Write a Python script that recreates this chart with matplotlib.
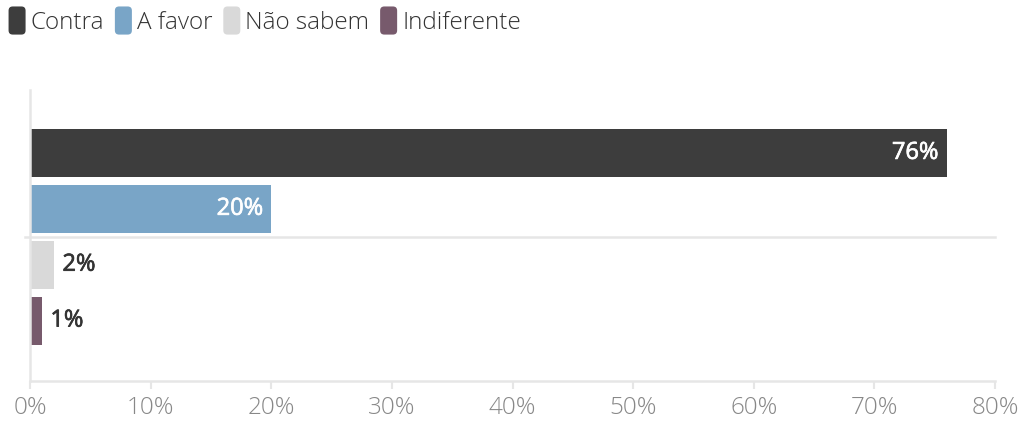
import matplotlib.pyplot as plt
import matplotlib.patheffects as pe
from matplotlib.patches import FancyBboxPatch, Patch
from matplotlib.legend_handler import HandlerPatch
from matplotlib.ticker import FuncFormatter

plt.rcParams['font.family'] = ['Open Sans', 'DejaVu Sans']

categorias = ['Contra', 'A favor', 'Não sabem', 'Indiferente']
valores = [76, 20, 2, 1]
cores = ['#3d3d3d', '#79a5c7', '#d9d9d9', '#775a6c']
ticks = [0, 10, 20, 30, 40, 50, 60, 70, 80]


class HandlerRound(HandlerPatch):
    def create_artists(self, legend, orig_handle, xdescent, ydescent,
                       width, height, fontsize, trans):
        p = FancyBboxPatch((-xdescent, -ydescent - 4), width, height + 8,
                           boxstyle='round,pad=0,rounding_size=3',
                           facecolor=orig_handle.get_facecolor(),
                           edgecolor='none', transform=trans)
        return [p]


fig = plt.figure(figsize=(10.24, 4.34), dpi=100)
ax = fig.add_axes([0.0293, 0.1221, 0.9424, 0.6705])

y = list(range(len(valores)))
ax.barh(y, valores, height=0.86, color=cores, edgecolor='none')

for i, v in enumerate(valores):
    if v >= 10:
        cor, dx, ha = 'white', -6, 'right'
    else:
        cor, dx, ha = '#333333', 6, 'left'
    ax.annotate(f'{v}%', (v, i), xytext=(dx, 0), textcoords='offset points',
                ha=ha, va='center', color=cor, fontsize=17,
                path_effects=[pe.withStroke(linewidth=0.5, foreground=cor)])

ax.axhline(1.5, xmin=-0.005, xmax=1, color='#e6e6e6', lw=1.8, clip_on=False)

ax.set_xlim(0, 80)
ax.set_ylim(4.08, -1.125)
ax.set_xticks(ticks)
ax.xaxis.set_major_formatter(FuncFormatter(lambda x, p: f'{x:.0f}%'))
ax.set_yticks([])
ax.tick_params(axis='x', colors='#e6e6e6', labelcolor='#888888',
               labelsize=17.5, length=6, width=1.5, pad=5)
for lbl in ax.get_xticklabels():
    lbl.set_fontweight('light')

for s in ['top', 'right']:
    ax.spines[s].set_visible(False)
for s in ['left', 'bottom']:
    ax.spines[s].set_color('#e6e6e6')
    ax.spines[s].set_linewidth(1.8)

handles = [Patch(facecolor=c, label=n) for c, n in zip(cores, categorias)]
leg = fig.legend(handles=handles, loc='upper left', bbox_to_anchor=(-0.013, 1.025),
                 ncol=4, frameon=False, fontsize=17.5, handlelength=0.7,
                 handleheight=0.7, handletextpad=0.2, columnspacing=0.45,
                 handler_map={Patch: HandlerRound()})
for t in leg.get_texts():
    t.set_color('#333333')
    t.set_fontweight('light')

fig.savefig('out.png', dpi=100)
